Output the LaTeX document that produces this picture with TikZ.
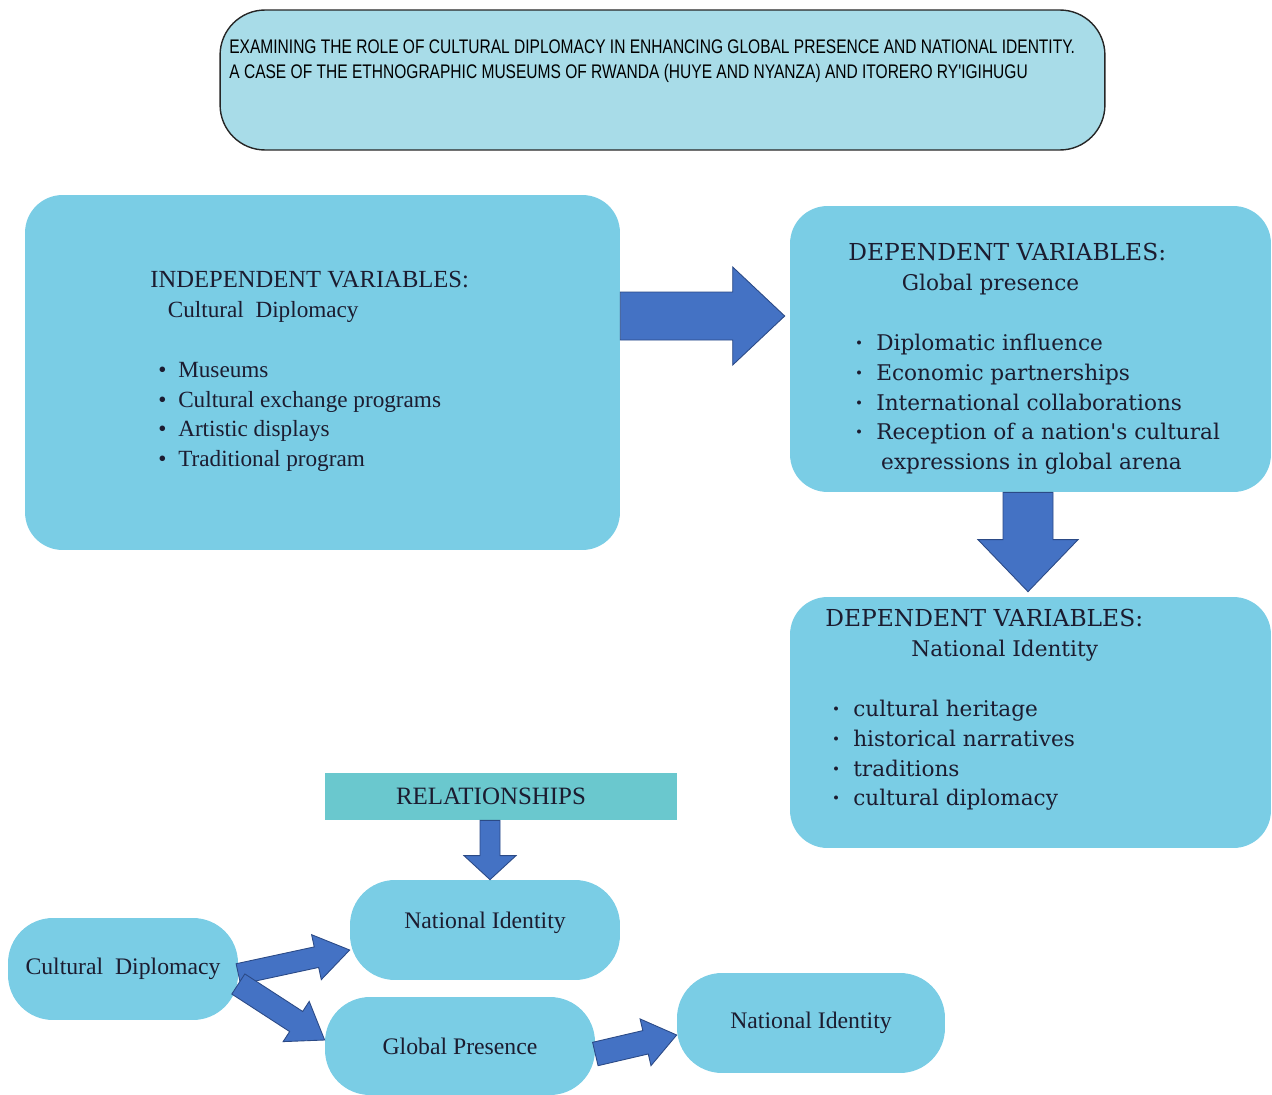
\documentclass[tikz,border=0pt]{standalone}
\usepackage{fontspec}
\setmainfont{Liberation Serif}
\newfontfamily\titlefont[FakeStretch=0.79]{Liberation Sans}
\newfontfamily\dvfont{DejaVu Serif}
\usetikzlibrary{calc}

\definecolor{panelblue}{HTML}{7ACDE5}
\definecolor{titleblue}{HTML}{A8DCE8}
\definecolor{relteal}{HTML}{6AC8CE}
\definecolor{arrowblue}{HTML}{4472C4}
\definecolor{arrowedge}{HTML}{2B4A86}
\definecolor{inkdark}{HTML}{1C1C30}

\newcommand\ivitem[1]{\hspace*{4.5pt}\makebox[11.4pt][l]{\textbullet}#1}
\newcommand\dvitem[1]{\hspace*{4pt}\makebox[11.9pt][l]{\textbf{\textperiodcentered}}#1}

\begin{document}
\begin{tikzpicture}[x=0.02cm,y=-0.02cm,
        panel/.style={fill=panelblue,rounded corners=0.75cm,inner sep=0pt},
        pill/.style={fill=panelblue,rounded corners=0.9cm,inner sep=0pt,
            text=inkdark,font=\fontsize{13.5}{15}\selectfont},
        ivtext/.style={align=left,inner sep=0pt,text=inkdark,
            font=\fontsize{13.2}{17}\selectfont},
        dvtext/.style={align=left,inner sep=0pt,text=inkdark,
            font=\dvfont\fontsize{12.3}{17}\selectfont},
        blockarrow/.style n args={3}{fill=arrowblue,draw=arrowedge,
            line width=0.5pt,
            to path={($(\tikztostart)!#1!90:(\tikztotarget)$)
              -- ($(\tikztotarget)!#3!(\tikztostart)!#1!90:(\tikztotarget)$)
              -- ($(\tikztotarget)!#3!(\tikztostart)!#2!90:(\tikztotarget)$)
              -- (\tikztotarget)
              -- ($(\tikztotarget)!#3!(\tikztostart)!#2!-90:(\tikztotarget)$)
              -- ($(\tikztotarget)!#3!(\tikztostart)!#1!-90:(\tikztotarget)$)
              -- ($(\tikztostart)!#1!-90:(\tikztotarget)$) -- cycle}}]

  \useasboundingbox (0,0) rectangle (1272,1095);
  \clip (0,0) rectangle (1272,1095);

  % title
  \node[fill=titleblue,draw=black!85,line width=0.8pt,rounded corners=0.9cm,
        minimum width=17.7cm,minimum height=2.8cm] (title) at (662.5,80) {};
  \node[anchor=north west,align=left,inner sep=0pt,text=black,
        font=\titlefont\fontsize{11.2}{14.2}\selectfont] (titletxt) at (229,39)
        {EXAMINING THE ROLE OF CULTURAL DIPLOMACY IN ENHANCING GLOBAL PRESENCE AND NATIONAL IDENTITY.\\
         A CASE OF THE ETHNOGRAPHIC MUSEUMS OF RWANDA (HUYE AND NYANZA) AND ITORERO RY'IGIHUGU};

  % variables
  \node[panel,minimum width=11.9cm,minimum height=7.1cm] (iv) at (322.5,372.5) {};
  \node[ivtext,anchor=north west] (ivtxt) at (150,271)
        {{\fontsize{14}{17}\selectfont INDEPENDENT VARIABLES:}\\
         \hspace*{10pt}Cultural\ \ Diplomacy\\[17pt]
         \ivitem{Museums}\\
         \ivitem{Cultural exchange programs}\\
         \ivitem{Artistic displays}\\
         \ivitem{Traditional program}};

  \node[panel,minimum width=9.62cm,minimum height=5.72cm] (dv1) at (1030.5,349) {};
  \node[dvtext,anchor=north west] (dv1txt) at (848,243)
        {{\fontsize{13.3}{17}\selectfont DEPENDENT VARIABLES:}\\
         \hspace*{30.5pt}Global presence\\[17pt]
         \dvitem{Diplomatic influence}\\
         \dvitem{Economic partnerships}\\
         \dvitem{International collaborations}\\
         \dvitem{Reception of a nation's cultural}\\
         \hspace*{18.7pt}expressions in global arena};

  \node[panel,minimum width=9.62cm,minimum height=5.02cm] (dv2) at (1030.5,722.5) {};
  \node[dvtext,anchor=north west] (dv2txt) at (825,609)
        {{\fontsize{13.3}{17}\selectfont DEPENDENT VARIABLES:}\\
         \hspace*{49pt}National Identity\\[17pt]
         \dvitem{cultural heritage}\\
         \dvitem{historical narratives}\\
         \dvitem{traditions}\\
         \dvitem{cultural diplomacy}};

  % relationships
  \node[fill=relteal,minimum width=7.04cm,minimum height=0.94cm,text=inkdark,
        font=\fontsize{14.2}{15}\selectfont] (rel) at (501,796.5) {\hspace*{-0.4cm}RELATIONSHIPS};
  \node[pill,minimum width=4.6cm,minimum height=2.04cm] (cd) at (123,969) {Cultural\ \ Diplomacy};
  \node[pill,minimum width=5.4cm,minimum height=2cm] (ni1) at (485,930) {\raisebox{0.4cm}{National Identity}};
  \node[pill,minimum width=5.4cm,minimum height=1.96cm] (gp) at (460,1046) {Global Presence};
  \node[pill,minimum width=5.36cm,minimum height=2cm] (ni2) at (811,1023) {National Identity};

  % arrow ends
  \coordinate (a1tail) at ([yshift=1.13cm]iv.east);
  \coordinate (a1tip) at ([xshift=-0.1cm]a1tail -| dv1.west);
  \coordinate (a2tail) at ([xshift=-0.05cm]dv1.south);
  \coordinate (a2tip) at ([yshift=0.1cm]a2tail |- dv2.north);
  \coordinate (a3tip) at ([xshift=0.1cm]ni1.north);
  \coordinate (a3tail) at (a3tip |- rel.south);
  \coordinate (a4tail) at ([yshift=-0.1cm]cd.east);
  \coordinate (a4tip) at ([yshift=-0.4cm]ni1.west);
  \coordinate (a5tail) at ([yshift=-0.3cm]cd.east);
  \coordinate (a5tip) at ([yshift=0.12cm]gp.west);
  \coordinate (a6tail) at ([yshift=-0.16cm]gp.east);
  \coordinate (a6tip) at ([yshift=-0.24cm]ni2.west);

  \path (a1tail) edge[blockarrow={0.48cm}{0.98cm}{1.04cm}] (a1tip)
        (a2tail) edge[blockarrow={0.5cm}{1cm}{1.04cm}] (a2tip)
        (a3tail) edge[blockarrow={0.2cm}{0.52cm}{0.48cm}] (a3tip)
        (a4tail) edge[blockarrow={0.21cm}{0.46cm}{0.68cm}] (a4tip)
        (a5tail) edge[blockarrow={0.24cm}{0.48cm}{0.68cm}] (a5tip)
        (a6tail) edge[blockarrow={0.24cm}{0.48cm}{0.64cm}] (a6tip);

\end{tikzpicture}
\end{document}
